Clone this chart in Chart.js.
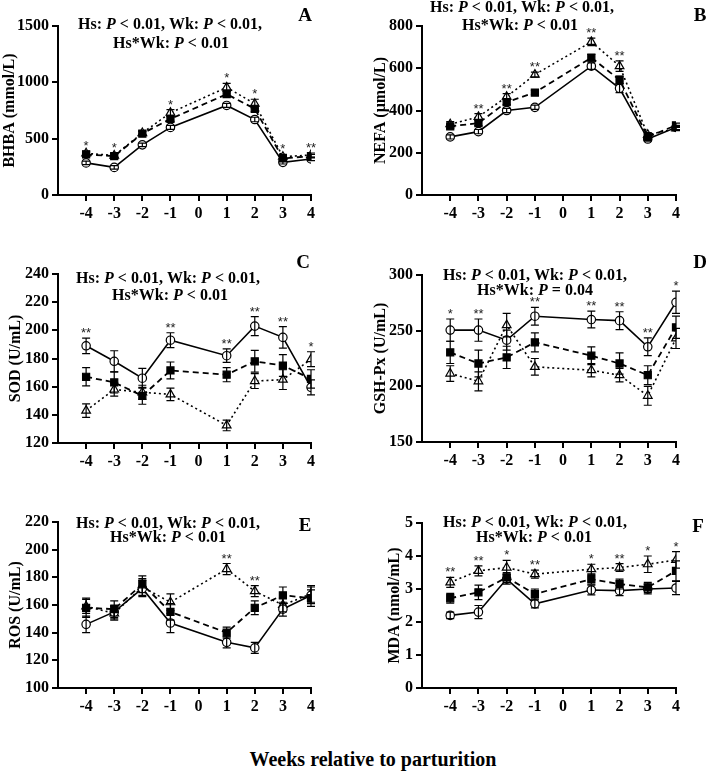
<!DOCTYPE html>
<html lang="en">
<head>
<meta charset="UTF-8">
<title>Blood markers relative to parturition</title>
<script src="https://cdn.jsdelivr.net/npm/chart.js"></script>
<style>
  body { margin: 0; background: #fff; }
  #wrap { position: relative; width: 709px; height: 772px; }
  canvas { position: absolute; }
  #xtitle { position: absolute; left: 123px; width: 500px; top: 748px; line-height: 24px;
            text-align: center; font: bold 20px "Liberation Serif", "Times New Roman", serif; color: #000; }
</style>
</head>
<body>
<div id="wrap">
  <canvas id="pA" width="354" height="225"></canvas>
  <canvas id="pB" width="355" height="225"></canvas>
  <canvas id="pC" width="354" height="225"></canvas>
  <canvas id="pD" width="355" height="225"></canvas>
  <canvas id="pE" width="354" height="225"></canvas>
  <canvas id="pF" width="355" height="225"></canvas>
  <div id="xtitle">Weeks relative to parturition</div>
</div>
<script>
// weeks relative to parturition (no sample at week 0)
const weeks = [-4, -3, -2, -1, 1, 2, 3, 4];
const weekTicks = [-4, -3, -2, -1, 0, 1, 2, 3, 4];

// A - BHBA (mmol/L)
const bhbaCircle = [285, 245, 445, 600, 795, 670, 290, 320];
const bhbaSquare = [360, 345, 545, 675, 895, 765, 325, 345];
const bhbaTriangle = [370, 350, 550, 730, 955, 810, 340, 355];
const bhbaCircleErr = [15, 15, 15, 18, 18, 20, 15, 15];
const bhbaSquareErr = [20, 18, 18, 22, 25, 25, 18, 15];
const bhbaTriangleErr = [20, 20, 20, 28, 35, 40, 20, 18];
const bhbaStars = ['*', '*', '', '*', '*', '*', '*', '**'];

// B - NEFA (umol/L)
const nefaCircle = [275, 300, 400, 415, 610, 505, 265, 320];
const nefaSquare = [325, 340, 440, 485, 650, 545, 275, 330];
const nefaTriangle = [335, 370, 465, 570, 725, 610, 285, 315];
const nefaCircleErr = [10, 10, 10, 10, 15, 20, 10, 10];
const nefaSquareErr = [10, 12, 12, 10, 15, 18, 10, 10];
const nefaTriangleErr = [12, 15, 15, 12, 18, 25, 10, 10];
const nefaStars = ['', '**', '**', '**', '**', '**', '', ''];

// C - SOD (U/mL)
const sodCircle = [189, 178, 166, 193, 182, 203, 195, 159.5];
const sodSquare = [167, 163, 153.5, 171.5, 168.5, 178, 175, 165.5];
const sodTriangle = [143, 158, 156, 154.5, 132.5, 164, 165, 179.5];
const sodCircleErr = [5.5, 7.5, 7, 5.3, 4.8, 6.7, 7.7, 5.3];
const sodSquareErr = [6.5, 7.5, 6, 6, 5, 7.7, 7.7, 6.5];
const sodTriangleErr = [4.8, 4.7, 5, 4.4, 3.8, 5.3, 7, 5.3];
const sodStars = ['**', '', '', '**', '**', '**', '**', '*'];

// D - GSH-Px (U/mL)
const gshCircle = [250.5, 250.5, 241.5, 263, 260, 259, 235.5, 275.5];
const gshSquare = [230.5, 220.5, 226, 239.5, 227.5, 220.5, 210, 253];
const gshTriangle = [211.5, 204.5, 255, 217.5, 214.5, 210, 191.5, 243];
const gshCircleErr = [10, 10, 9, 8, 7.5, 8, 8, 10];
const gshSquareErr = [10, 12, 10, 8.5, 8, 9.5, 8.5, 10];
const gshTriangleErr = [7, 8.5, 10.5, 7.5, 6, 6, 8.5, 9];
const gshStars = ['*', '**', '', '**', '**', '**', '**', '*'];

// E - ROS (U/mL)
const rosCircle = [146, 155, 172, 147, 133, 129, 157, 167];
const rosSquare = [158, 157, 175, 155, 140, 158, 167, 165];
const rosTriangle = [159, 154, 173, 162, 186, 170, 160, 168];
const rosCircleErr = [6, 5, 6, 7, 4, 4, 5, 6];
const rosSquareErr = [7, 6, 6, 6, 4, 5, 6, 6];
const rosTriangleErr = [5, 5, 6, 6, 4, 4, 5, 6];
const rosStars = ['', '', '', '', '**', '**', '', ''];

// F - MDA (nmol/mL)
const mdaCircle = [2.2, 2.3, 3.3, 2.55, 2.97, 2.95, 3.0, 3.03];
const mdaSquare = [2.72, 2.9, 3.35, 2.85, 3.3, 3.15, 3.05, 3.55];
const mdaTriangle = [3.2, 3.55, 3.65, 3.45, 3.6, 3.65, 3.75, 3.88];
const mdaCircleErr = [0.1, 0.2, 0.15, 0.12, 0.15, 0.15, 0.15, 0.2];
const mdaSquareErr = [0.15, 0.22, 0.15, 0.15, 0.15, 0.15, 0.15, 0.3];
const mdaTriangleErr = [0.15, 0.15, 0.22, 0.12, 0.15, 0.12, 0.25, 0.25];
const mdaStars = ['**', '**', '*', '**', '*', '**', '*', '*'];

// stats notes: [text, italic?]
const note1 = [['Hs: ', 0], ['P', 1], [' < 0.01, Wk: ', 0], ['P', 1], [' < 0.01,', 0]];
const note2 = [['Hs*Wk: ', 0], ['P', 1], [' < 0.01', 0]];
const note2D = [['Hs*Wk: ', 0], ['P', 1], [' = 0.04', 0]];

const SERIF = '"Liberation Serif", "Times New Roman", serif';

// layout in page px: canvas box + chart area edges
const panels = [
  { id: 'pA', left: 0, top: 0, l: 58, t: 26, r: 311, b: 195, min: 0, max: 1500, step: 500,
    title: 'BHBA (mmol/L)', tpad: 0, vals: [bhbaSquare, bhbaCircle, bhbaTriangle],
    errs: [bhbaSquareErr, bhbaCircleErr, bhbaTriangleErr], stars: bhbaStars,
    letter: ['A', 305, 16], notes: [[note1, 170, 25], [note2, 171, 44]] },
  { id: 'pB', left: 354, top: 0, l: 422, t: 26, r: 676, b: 195, min: 0, max: 800, step: 200,
    title: 'NEFA (\u00b5mol/L)', tpad: 17, vals: [nefaSquare, nefaCircle, nefaTriangle],
    errs: [nefaSquareErr, nefaCircleErr, nefaTriangleErr], stars: nefaStars,
    letter: ['B', 700, 16], notes: [[note1, 522, 8], [note2, 520, 26]] },
  { id: 'pC', left: 0, top: 248, l: 58, t: 274, r: 311, b: 443, min: 120, max: 240, step: 20,
    title: 'SOD (U/mL)', tpad: 6, vals: [sodSquare, sodCircle, sodTriangle],
    errs: [sodSquareErr, sodCircleErr, sodTriangleErr], stars: sodStars,
    letter: ['C', 303, 263], notes: [[note1, 168, 279], [note2, 170, 296]] },
  { id: 'pD', left: 354, top: 248, l: 422, t: 275, r: 676, b: 442, min: 150, max: 300, step: 50,
    title: 'GSH-Px (U/mL)', tpad: 17, vals: [gshSquare, gshCircle, gshTriangle],
    errs: [gshSquareErr, gshCircleErr, gshTriangleErr], stars: gshStars,
    letter: ['D', 700, 263], notes: [[note1, 535, 276], [note2D, 535, 291]] },
  { id: 'pE', left: 0, top: 496, l: 58, t: 522, r: 311, b: 688, min: 100, max: 220, step: 20,
    title: 'ROS (U/mL)', tpad: 6, vals: [rosSquare, rosCircle, rosTriangle],
    errs: [rosSquareErr, rosCircleErr, rosTriangleErr], stars: rosStars,
    letter: ['E', 305, 526], notes: [[note1, 168, 524], [note2, 168, 538]] },
  { id: 'pF', left: 354, top: 496, l: 422, t: 523, r: 676, b: 688, min: 0, max: 5, step: 1,
    title: 'MDA (nmol/mL)', tpad: 31, vals: [mdaSquare, mdaCircle, mdaTriangle],
    errs: [mdaSquareErr, mdaCircleErr, mdaTriangleErr], stars: mdaStars,
    letter: ['F', 698, 527], notes: [[note1, 535, 523], [note2, 534, 538]] }
];

const styles = [
  { pointStyle: 'rect', pointRadius: 5, backgroundColor: '#000', borderDash: [6, 4], borderWidth: 1.8 },
  { pointStyle: 'circle', pointRadius: 4.2, backgroundColor: '#fff', borderDash: [], borderWidth: 1.6 },
  { pointStyle: 'triangle', pointRadius: 5, backgroundColor: '#fff', borderDash: [2, 3], borderWidth: 1.6 }
];

function drawNote(ctx, segs, cx, cy) {
  const fonts = ['bold 16px ' + SERIF, 'italic bold 16px ' + SERIF];
  let total = 0;
  segs.forEach(s => { ctx.font = fonts[s[1]]; total += ctx.measureText(s[0]).width; });
  let x = cx - total / 2;
  ctx.textAlign = 'left';
  ctx.textBaseline = 'middle';
  segs.forEach(s => {
    ctx.font = fonts[s[1]];
    ctx.fillText(s[0], x, cy);
    x += ctx.measureText(s[0]).width;
  });
}

const extras = {
  id: 'extras',
  afterDatasetsDraw(chart) {
    const p = chart.$panel;
    const ctx = chart.ctx;
    const xs = chart.scales.x, ys = chart.scales.y;
    ctx.save();
    ctx.strokeStyle = '#000';
    ctx.lineWidth = 1.2;
    // error bars
    p.vals.forEach((vals, k) => {
      vals.forEach((v, i) => {
        const x = xs.getPixelForValue(weeks[i]);
        const y1 = ys.getPixelForValue(v + p.errs[k][i]);
        const y2 = ys.getPixelForValue(v - p.errs[k][i]);
        ctx.beginPath();
        ctx.moveTo(x, y1); ctx.lineTo(x, y2);
        ctx.moveTo(x - 4, y1); ctx.lineTo(x + 4, y1);
        ctx.moveTo(x - 4, y2); ctx.lineTo(x + 4, y2);
        ctx.stroke();
      });
    });
    // significance stars
    ctx.fillStyle = '#222';
    ctx.font = '13px "Liberation Sans", Arial, sans-serif';
    ctx.textAlign = 'center';
    ctx.textBaseline = 'alphabetic';
    p.stars.forEach((s, i) => {
      if (!s) return;
      let top = Infinity;
      p.vals.forEach((vals, k) => {
        top = Math.min(top, ys.getPixelForValue(vals[i] + p.errs[k][i]));
      });
      ctx.fillText(s, xs.getPixelForValue(weeks[i]), top - 1);
    });
    // notes and panel letter
    ctx.fillStyle = '#000';
    p.notes.forEach(n => drawNote(ctx, n[0], n[1] - p.left, n[2] - p.top));
    ctx.font = 'bold 19px ' + SERIF;
    ctx.textAlign = 'center';
    ctx.textBaseline = 'middle';
    ctx.fillText(p.letter[0], p.letter[1] - p.left, p.letter[2] - p.top);
    ctx.restore();
  }
};

panels.forEach(p => {
  const cv = document.getElementById(p.id);
  const w = cv.width, h = cv.height;
  cv.style.left = p.left + 'px';
  cv.style.top = p.top + 'px';
  cv.style.width = w + 'px';
  cv.style.height = h + 'px';
  new Chart(cv, {
    type: 'line',
    data: {
      datasets: p.vals.map((vals, k) => Object.assign({
        data: vals.map((v, i) => ({ x: weeks[i], y: v })),
        borderColor: '#000',
        pointBorderColor: '#000',
        pointBorderWidth: 1.2,
        pointBackgroundColor: styles[k].backgroundColor,
        tension: 0,
        fill: false
      }, styles[k]))
    },
    options: {
      responsive: false,
      animation: false,
      layout: { padding: { left: 0, bottom: 0, top: p.t - p.top, right: p.left + w - p.r } },
      plugins: { legend: { display: false }, tooltip: { enabled: false } },
      scales: {
        x: {
          type: 'linear', min: -5, max: 4,
          afterBuildTicks: s => { s.ticks = weekTicks.map(v => ({ value: v })); },
          afterFit: s => { s.height = p.top + h - p.b; },
          border: { display: true, color: '#000', width: 2 },
          grid: { drawOnChartArea: false, drawTicks: true, tickLength: 6, color: '#000', lineWidth: 2 },
          ticks: { autoSkip: false, maxRotation: 0, padding: 3, color: '#000',
                   font: { family: SERIF, size: 16, weight: 'bold' }, callback: v => String(v) }
        },
        y: {
          min: p.min, max: p.max,
          afterFit: s => { s.width = p.l - p.left; },
          border: { display: true, color: '#000', width: 2 },
          grid: { drawOnChartArea: false, drawTicks: true, tickLength: 6, color: '#000', lineWidth: 2 },
          ticks: { stepSize: p.step, padding: 3, color: '#000', callback: v => String(v),
                   font: { family: SERIF, size: 16, weight: 'bold' } },
          title: { display: true, text: p.title, color: '#000', padding: { top: p.tpad, bottom: 0 },
                   font: { family: SERIF, size: 16, weight: 'bold' } }
        }
      }
    },
    plugins: [{ id: 'bind', beforeInit(c) { c.$panel = p; } }, extras]
  });
});
</script>
</body>
</html>
